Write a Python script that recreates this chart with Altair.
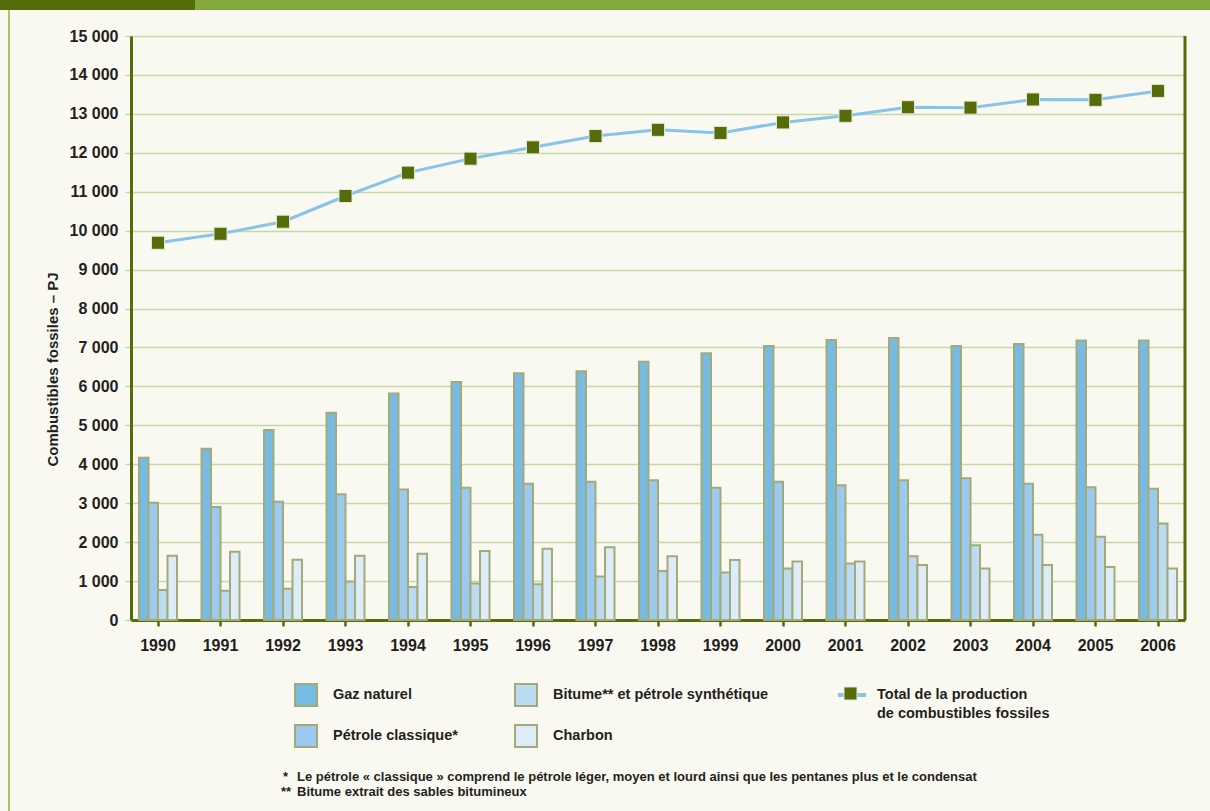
import altair as alt
import pandas as pd

# Production of fossil fuels, Canada, in petajoules (PJ)
years = [str(y) for y in range(1990, 2007)]
gaz_naturel = [4170, 4400, 4880, 5320, 5820, 6110, 6340, 6390, 6630, 6850,
               7040, 7190, 7240, 7040, 7090, 7180, 7180]
petrole_classique = [3010, 2900, 3040, 3230, 3350, 3400, 3500, 3550, 3590, 3400,
                     3550, 3460, 3590, 3640, 3500, 3410, 3370]
bitume = [770, 750, 800, 990, 850, 940, 920, 1120, 1260, 1220,
          1320, 1450, 1640, 1920, 2190, 2140, 2480]
charbon = [1650, 1750, 1550, 1650, 1700, 1770, 1830, 1870, 1640, 1540,
           1500, 1500, 1410, 1320, 1410, 1360, 1320]
total = [9690, 9920, 10230, 10890, 11490, 11850, 12140, 12430, 12590, 12510,
         12780, 12950, 13170, 13160, 13370, 13360, 13590]

series = ["Gaz naturel", "Pétrole classique*",
          "Bitume** et pétrole synthétique", "Charbon"]
fill_colors = ["#77bbe5", "#9ccaee", "#bcdbf2", "#deebf8"]
total_label = "Total de la production"
total_label_2 = "de combustibles fossiles"
y_ticks = list(range(0, 15001, 1000))
footnote_1 = "Le pétrole « classique » comprend le pétrole léger, moyen et lourd ainsi que les pentanes plus et le condensat"
footnote_2 = "Bitume extrait des sables bitumineux"

rows = []
for name, vals in zip(series, [gaz_naturel, petrole_classique, bitume, charbon]):
    for yr, v in zip(years, vals):
        rows.append({"annee": yr, "serie": name, "pj": v})
bars_df = pd.DataFrame(rows)
total_df = pd.DataFrame({"annee": years, "pj": total,
                         "ligne": total_label, "marqueur": total_label})
one = pd.DataFrame({"k": [0]})

FONT = "Liberation Sans"
INK = "#231f20"
OLIVE = "#566b0a"
GREEN = "#84a83c"
GRID = "#c8d7a6"
BAR_EDGE = "#a2ab78"
W, H = 1054, 584

x_enc = alt.X(
    "annee:N", sort=years, title=None,
    scale=alt.Scale(paddingInner=0.392, paddingOuter=0.128),
    axis=alt.Axis(labelAngle=0, labelFont=FONT, labelFontSize=16,
                  labelFontWeight="bold", labelColor=INK, labelPadding=11,
                  domainColor=OLIVE, domainWidth=3, tickColor=OLIVE,
                  tickWidth=2.5, tickSize=6, grid=False),
)
y_enc = alt.Y(
    "pj:Q", title="Combustibles fossiles – PJ",
    scale=alt.Scale(domain=[0, 15000], nice=False, zero=True),
    axis=alt.Axis(values=y_ticks, labelOverlap=False,
                  labelExpr="replace(format(datum.value, ','), ',', ' ')",
                  labelFont=FONT, labelFontSize=16, labelFontWeight="bold",
                  labelColor=INK, labelPadding=7,
                  domainColor=OLIVE, domainWidth=3,
                  tickColor=GRID, tickWidth=1.5, tickSize=6,
                  grid=True, gridColor=GRID, gridWidth=1.5,
                  titleFont=FONT, titleFontSize=15, titleFontWeight="bold",
                  titleColor=INK, titleAngle=270, titleAlign="center",
                  titleBaseline="middle", titleX=-79, titleY=333),
)

bars = alt.Chart(bars_df).mark_bar(
    stroke=BAR_EDGE, strokeWidth=2, opacity=1
).encode(
    x=x_enc,
    y=y_enc,
    xOffset=alt.XOffset("serie:N", sort=series,
                        scale=alt.Scale(paddingInner=0, paddingOuter=0)),
    fill=alt.Fill(
        "serie:N",
        scale=alt.Scale(domain=series, range=fill_colors),
        legend=alt.Legend(
            title=None, orient="none", legendX=163, legendY=647,
            columns=2, symbolType="square", symbolSize=484,
            symbolStrokeColor=BAR_EDGE, symbolStrokeWidth=2,
            symbolOpacity=1, labelFont=FONT, labelFontSize=14.5,
            labelFontWeight="bold", labelColor=INK, labelLimit=400,
            labelOffset=15, rowPadding=11, columnPadding=53, padding=0,
        ),
    ),
)

line = alt.Chart(total_df).mark_line(strokeWidth=3).encode(
    x=x_enc,
    y=y_enc,
    stroke=alt.Stroke(
        "ligne:N", scale=alt.Scale(range=["#88c3ea"]),
        legend=alt.Legend(
            title=None, orient="none", legendX=705, legendY=643,
            symbolType="stroke", symbolSize=784, symbolStrokeWidth=4,
            labelFont=FONT, labelFontSize=14.5, labelFontWeight="bold",
            labelColor=INK, labelOffset=9, labelLimit=400, padding=0,
        ),
    ),
)

points = alt.Chart(total_df).mark_point(
    shape="square", filled=True, size=170, opacity=1,
    stroke="#e4ead2", strokeWidth=1
).encode(
    x=x_enc,
    y=y_enc,
    color=alt.Color(
        "marqueur:N", scale=alt.Scale(range=[OLIVE]),
        legend=alt.Legend(
            title=None, orient="none", legendX=712, legendY=650,
            symbolType="square", symbolSize=170, symbolOpacity=1,
            symbolStrokeColor="#e4ead2", symbolStrokeWidth=1,
            labelExpr="''", labelFontSize=1, padding=0,
        ),
    ),
)

# right-hand frame of the plot area
right_edge = alt.Chart(one).mark_rule(color=OLIVE, strokeWidth=3).encode(
    x=alt.value(W), y=alt.value(0), y2=alt.value(H)
)

# header band and page frame
band_dark = alt.Chart(one).mark_rect(color=OLIVE).encode(
    x=alt.value(-131), x2=alt.value(64), y=alt.value(-36), y2=alt.value(-26)
)
band_light = alt.Chart(one).mark_rect(color=GREEN).encode(
    x=alt.value(64), x2=alt.value(1079), y=alt.value(-36), y2=alt.value(-26)
)
frame_left = alt.Chart(one).mark_rule(color="#8db040", strokeWidth=1.5).encode(
    x=alt.value(-122), y=alt.value(-26), y2=alt.value(780)
)

legend_line2 = alt.Chart(one).mark_text(
    text=total_label_2, font=FONT, fontSize=14.5, fontWeight="bold",
    color=INK, align="left", baseline="middle"
).encode(x=alt.value(746), y=alt.value(678))

note_style = dict(font=FONT, fontSize=13, fontWeight="bold", color=INK,
                  align="left", baseline="middle")
note_star_1 = alt.Chart(one).mark_text(text="*", **note_style).encode(
    x=alt.value(152), y=alt.value(741))
note_text_1 = alt.Chart(one).mark_text(text=footnote_1, **note_style).encode(
    x=alt.value(166), y=alt.value(741))
note_star_2 = alt.Chart(one).mark_text(text="**", **note_style).encode(
    x=alt.value(150), y=alt.value(756))
note_text_2 = alt.Chart(one).mark_text(text=footnote_2, **note_style).encode(
    x=alt.value(166), y=alt.value(756))

chart = alt.layer(
    bars, line, points, right_edge, band_dark, band_light, frame_left,
    legend_line2, note_star_1, note_text_1, note_star_2, note_text_2,
).resolve_scale(
    fill="independent", stroke="independent", color="independent"
).properties(
    width=W, height=H,
    autosize=alt.AutoSizeParams(type="none"),
    padding={"left": 131, "top": 36, "right": 25, "bottom": 191},
).configure(
    background="#f9f9f2",
).configure_view(
    stroke=None,
)

chart.save("out.html", embed_options={"renderer": "svg", "actions": False})
